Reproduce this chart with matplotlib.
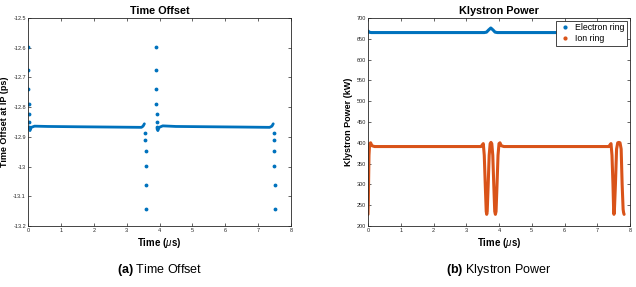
import matplotlib
matplotlib.use("Agg")
import matplotlib.pyplot as plt
from matplotlib.lines import Line2D

plt.rcParams['font.family'] = ['Liberation Sans', 'DejaVu Sans']
plt.rcParams['mathtext.fontset'] = 'custom'
plt.rcParams['mathtext.rm'] = 'Liberation Sans'
plt.rcParams['mathtext.it'] = 'Liberation Sans:italic'
plt.rcParams['mathtext.bf'] = 'Liberation Sans:bold'

BLUE = '#0072BD'
ORANGE = '#D95319'

# ---------------- Time offset data (ps) ----------------
spike1_t = [0.005, 0.01, 0.015, 0.02, 0.025, 0.03, 0.035]
spike_v = [-12.597, -12.675, -12.739, -12.789, -12.824, -12.850, -12.868]
spike2_t = [3.89, 3.895, 3.90, 3.905, 3.91, 3.915, 3.92]
drop1_t = [3.56, 3.568, 3.576, 3.584, 3.592, 3.60]
drop_v = [-12.886, -12.912, -12.949, -12.998, -13.062, -13.142]
drop2_t = [7.48, 7.486, 7.492, 7.498, 7.504, 7.51]

flat1_t = [0.04, 0.06, 0.1, 0.2, 0.6, 1.5, 2.5, 3.45, 3.5, 3.54]
flat1_v = [-12.873, -12.879, -12.868, -12.864, -12.865, -12.866, -12.867, -12.868, -12.864, -12.856]
flat2_t = [3.925, 3.95, 3.99, 4.1, 4.5, 5.5, 6.5, 7.35, 7.42, 7.46]
flat2_v = [-12.873, -12.879, -12.868, -12.863, -12.865, -12.866, -12.867, -12.868, -12.864, -12.856]

# ---------------- Klystron power data (kW) ----------------
elec_t = [0.0, 0.02, 0.1, 3.55, 3.62, 3.68, 3.75, 3.82, 3.88, 3.95, 7.45, 7.52, 7.59, 7.66, 7.73, 7.80, 7.85]
elec_v = [669, 666, 665, 665, 666, 671, 676, 671, 666, 665, 665, 666, 671, 676, 671, 666, 665]

ion_t = [0.0, 0.01, 0.02, 0.03, 0.05, 0.08, 0.12, 0.2, 1.0, 2.0, 3.0, 3.45, 3.5, 3.52,
         3.55, 3.58, 3.61, 3.625, 3.64, 3.67, 3.70, 3.73, 3.755, 3.78, 3.81, 3.84, 3.87,
         3.89, 3.91, 3.94, 3.97, 4.0, 4.03, 4.07, 4.15, 5.0, 6.0, 7.0, 7.35, 7.4, 7.42,
         7.45, 7.48, 7.50, 7.51, 7.525, 7.555, 7.59, 7.625, 7.66, 7.695, 7.73, 7.76, 7.79,
         7.805, 7.82]
ion_v = [228, 260, 320, 370, 398, 400, 393, 391, 391, 391, 391, 391, 396, 398,
         370, 300, 235, 228, 235, 300, 370, 398, 401, 398, 370, 300, 235,
         228, 235, 300, 370, 398, 400, 393, 391, 391, 391, 391, 391, 396, 398,
         370, 300, 240, 228, 240, 300, 385, 400, 401, 400, 385, 300, 240,
         232, 228]

x_ticks = [0, 1, 2, 3, 4, 5, 6, 7, 8]
off_ticks = [-13.2, -13.1, -13.0, -12.9, -12.8, -12.7, -12.6, -12.5]
off_labels = ['-13.2', '-13.1', '-13', '-12.9', '-12.8', '-12.7', '-12.6', '-12.5']
pow_ticks = [200, 250, 300, 350, 400, 450, 500, 550, 600, 650, 700]

fig = plt.figure(figsize=(6.36, 2.87), dpi=100)
ax1 = fig.add_axes([28/636, 1-226/287, 263/636, 208/287])
ax2 = fig.add_axes([368/636, 1-226/287, 262/636, 208/287])

def style(ax):
    ax.tick_params(direction='in', length=2.5, width=0.5, labelsize=4.0,
                   colors='#262626', top=True, right=True, pad=1.5)
    for s in ax.spines.values():
        s.set_linewidth(0.6)
        s.set_color('#262626')

# Left panel
ax1.plot(flat1_t, flat1_v, color=BLUE, lw=2.0, solid_capstyle='round')
ax1.plot(flat2_t, flat2_v, color=BLUE, lw=2.0, solid_capstyle='round')
for tt in (spike1_t, spike2_t):
    ax1.plot(tt, spike_v, '.', color=BLUE, ms=3.5, ls='none')
for tt in (drop1_t, drop2_t):
    ax1.plot(tt, drop_v, '.', color=BLUE, ms=3.5, ls='none')
ax1.set_xlim(0, 8)
ax1.set_ylim(-13.2, -12.5)
ax1.set_xticks(x_ticks)
ax1.set_yticks(off_ticks)
ax1.set_yticklabels(off_labels)
style(ax1)
ax1.set_title('Time Offset', fontsize=7.8, fontweight='bold', pad=3)
ax1.set_xlabel(r'Time ($\mu$s)', fontsize=7, fontweight='bold', labelpad=2)
ax1.set_ylabel('Time Offset at IP (ps)', fontsize=6.5, fontweight='bold')
ax1.yaxis.set_label_coords(-0.071, 0.5)

# Right panel
ax2.plot(elec_t, elec_v, color=BLUE, lw=2.2, solid_capstyle='round')
ax2.plot(ion_t, ion_v, color=ORANGE, lw=2.2, solid_capstyle='round')
ax2.set_xlim(0, 8)
ax2.set_ylim(200, 700)
ax2.set_xticks(x_ticks)
ax2.set_yticks(pow_ticks)
style(ax2)
ax2.set_title('Klystron Power', fontsize=7.8, fontweight='bold', pad=3)
ax2.set_xlabel(r'Time ($\mu$s)', fontsize=7, fontweight='bold', labelpad=2)
ax2.set_ylabel('Klystron Power (kW)', fontsize=6.5, fontweight='bold')
ax2.yaxis.set_label_coords(-0.058, 0.5)
handles = [Line2D([], [], marker='.', color=BLUE, ls='none', ms=4),
           Line2D([], [], marker='.', color=ORANGE, ls='none', ms=4)]
leg = ax2.legend(handles, ['Electron ring', 'Ion ring'], loc='upper right',
                 fontsize=6.3, frameon=True, fancybox=False, framealpha=1,
                 edgecolor='#262626', borderpad=0.3, handlelength=1.5,
                 handletextpad=0.4, labelspacing=0.2, borderaxespad=0.3)
leg.get_frame().set_linewidth(0.6)

# Captions
fig.text((28+291)/2/636, 1-270/287, r'$\mathbf{(a)}$ Time Offset', ha='center', va='center', fontsize=9)
fig.text((368+630)/2/636, 1-270/287, r'$\mathbf{(b)}$ Klystron Power', ha='center', va='center', fontsize=9)

fig.savefig('out.png', dpi=100)
